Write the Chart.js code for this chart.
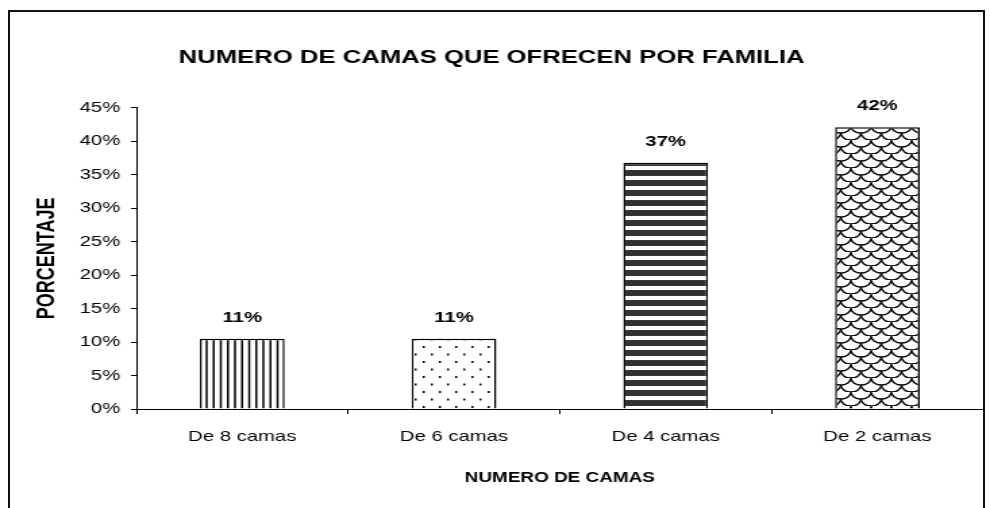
<!DOCTYPE html>
<html>
<head>
<meta charset="utf-8">
<script src="https://cdn.jsdelivr.net/npm/chart.js@4"></script>
<style>
  body { margin: 0; background: #fff; overflow: hidden; }
  /* the source picture is an Excel chart stretched sideways, so stretch the canvas the same way */
  #wrap { position: absolute; left: 0; top: 0; width: 733px; height: 508px; transform: scaleX(1.3506); transform-origin: 0 0; }
  #frame { position: absolute; left: 8px; top: 10px; width: 977px; height: 600px; border: 2px solid #111; box-sizing: border-box; pointer-events: none; }
</style>
</head>
<body>
<div id="wrap"><canvas id="myChart"></canvas></div>
<div id="frame"></div>
<script>
const categories = ["De 8 camas", "De 6 camas", "De 4 camas", "De 2 camas"];
const percentages = [10.5, 10.5, 36.8, 42.1];
const yTickValues = [0, 5, 10, 15, 20, 25, 30, 35, 40, 45];

const FONT = "'Liberation Sans', Arial, sans-serif";

//Fill patterns for each bar
const makeTile = (w, h, draw) => {
  const c = document.createElement("canvas");
  c.width = w;
  c.height = h;
  const ctx = c.getContext("2d");
  ctx.fillStyle = "#fff";
  ctx.fillRect(0, 0, w, h);
  draw(ctx);
  return ctx.createPattern(c, "repeat");
};

const verticalLines = makeTile(21, 4, (ctx) => {
  ctx.fillStyle = "#000";
  for (let i = 0; i < 4; i++) ctx.fillRect(i * 5.25, 0, 1.5, 4);
});

const dots = makeTile(12, 15, (ctx) => {
  ctx.fillStyle = "#000";
  ctx.fillRect(1, 1, 1.5, 2);
  ctx.fillRect(7, 8.5, 1.5, 2);
});

const stripes = makeTile(4, 10, (ctx) => {
  ctx.fillStyle = "#333";
  ctx.fillRect(0, 0, 4, 6);
});

const scales = makeTile(15, 14, (ctx) => {
  ctx.strokeStyle = "#000";
  ctx.lineWidth = 1.3;
  [[7.5, 0], [0, 7], [15, 7], [7.5, 14]].forEach(([cx, cy]) => {
    ctx.beginPath();
    ctx.ellipse(cx, cy, 7.5, 7, 0, 0, Math.PI);
    ctx.stroke();
  });
});

const barLabels = {
  id: "barLabels",
  afterDatasetsDraw(chart) {
    const ctx = chart.ctx;
    ctx.save();
    ctx.font = "bold 15px " + FONT;
    ctx.fillStyle = "#000";
    ctx.textAlign = "center";
    ctx.textBaseline = "middle";
    chart.getDatasetMeta(0).data.forEach((bar, i) => {
      ctx.fillText(Math.round(percentages[i]) + "%", bar.x, bar.y - 21);
    });
    ctx.restore();
  },
};

const data = {
  labels: categories,
  datasets: [
    {
      data: percentages,
      backgroundColor: [verticalLines, dots, stripes, scales],
      borderColor: "#000",
      borderWidth: 1.5,
      categoryPercentage: 1,
      barPercentage: 0.4,
    },
  ],
};

const config = {
  type: "bar",
  data: data,
  options: {
    responsive: true,
    maintainAspectRatio: false,
    animation: false,
    layout: { padding: { left: 0, right: 5, top: 0, bottom: 0 } },
    plugins: {
      legend: { display: false },
      tooltip: { enabled: false },
      title: {
        display: true,
        text: "NUMERO DE CAMAS QUE OFRECEN POR FAMILIA",
        color: "#000",
        font: { family: FONT, size: 19, weight: "bold" },
        padding: { top: 46, bottom: 39 },
      },
    },
    scales: {
      x: {
        afterFit: (scale) => {
          scale.height = 99;
        },
        grid: { drawOnChartArea: false, color: "#000", tickLength: 5 },
        border: { color: "#000", width: 1 },
        ticks: { color: "#000", padding: 14, font: { family: FONT, size: 15 } },
        title: {
          display: true,
          text: "NUMERO DE CAMAS",
          color: "#000",
          font: { family: FONT, size: 14, weight: "bold" },
          padding: { top: 0, bottom: 21 },
        },
      },
      y: {
        min: 0,
        max: 45,
        afterFit: (scale) => {
          scale.width = 101;
        },
        afterBuildTicks: (scale) => {
          scale.ticks = yTickValues.map((v) => ({ value: v }));
        },
        grid: { drawOnChartArea: false, color: "#000", tickLength: 4 },
        border: { color: "#000", width: 1 },
        ticks: {
          color: "#000",
          padding: 8,
          font: { family: FONT, size: 15 },
          callback: (v) => v + "%",
        },
        title: {
          display: true,
          text: "PORCENTAJE",
          color: "#000",
          font: { family: FONT, size: 18, weight: "bold" },
          padding: { top: 24, bottom: 0 },
        },
      },
    },
  },
  plugins: [barLabels],
};

const myChart = new Chart(document.getElementById("myChart"), config);
</script>
</body>
</html>
